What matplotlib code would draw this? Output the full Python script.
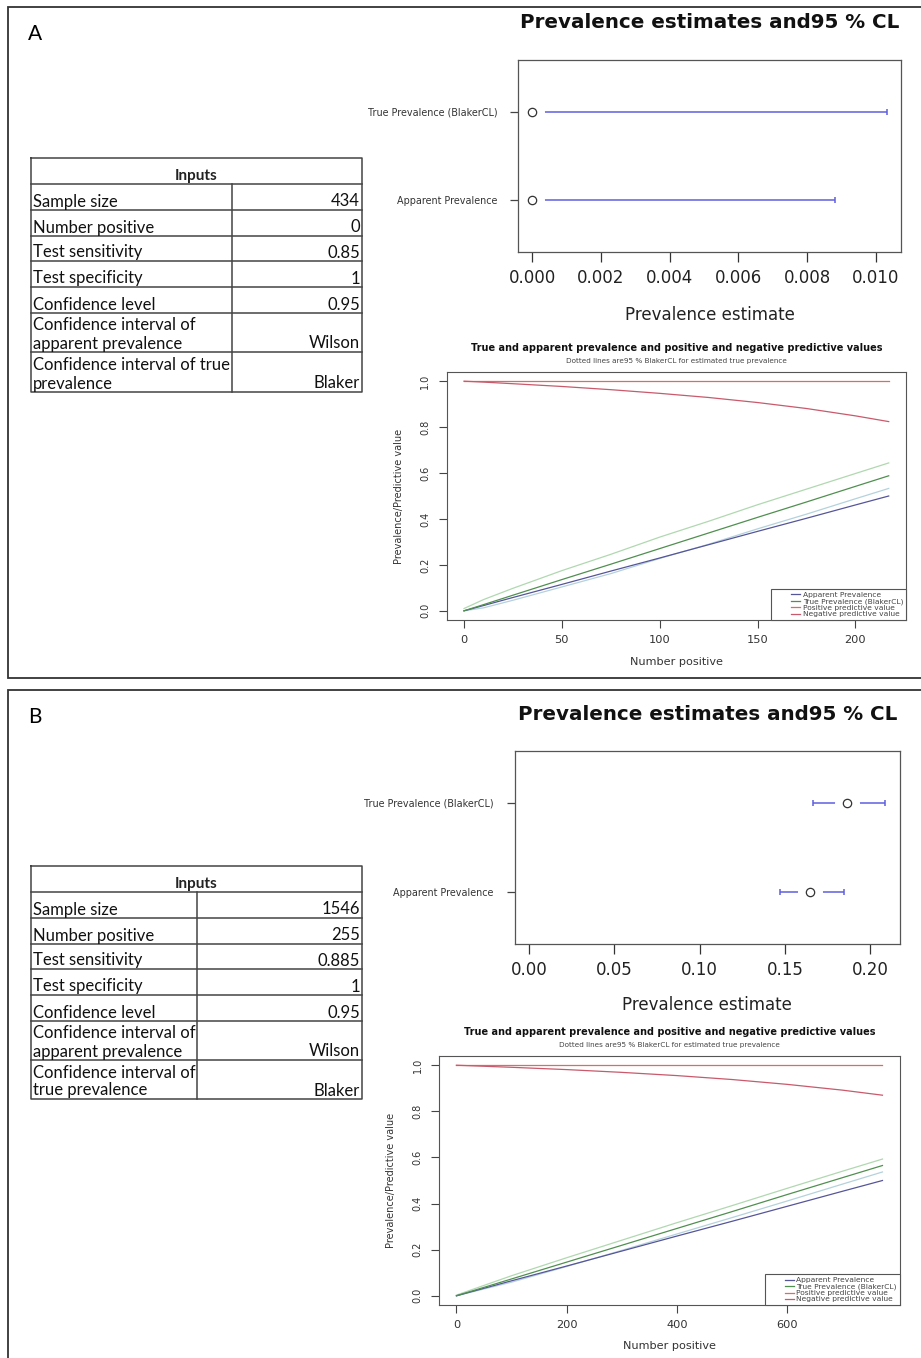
import matplotlib
matplotlib.use('Agg')
import matplotlib.pyplot as plt
from matplotlib.lines import Line2D
from matplotlib.legend_handler import HandlerLine2D

W, H = 921, 1358

# ---- panel A inputs ----
a_rows = ['Sample size', 'Number positive', 'Test sensitivity', 'Test specificity',
          'Confidence level', 'Confidence interval of\napparent prevalence',
          'Confidence interval of true\nprevalence']
a_vals = ['434', '0', '0.85', '1', '0.95', 'Wilson', 'Blaker']

# ---- panel B inputs ----
b_rows = ['Sample size', 'Number positive', 'Test sensitivity', 'Test specificity',
          'Confidence level', 'Confidence interval of\napparent prevalence',
          'Confidence interval of\ntrue prevalence']
b_vals = ['1546', '255', '0.885', '1', '0.95', 'Wilson', 'Blaker']

# ---- prevalence estimates (Apparent, True) ----
prev_labels = ['Apparent Prevalence', 'True Prevalence (BlakerCL)']
a_est = [0.0, 0.0]
a_lo = [0.0, 0.0]
a_hi = [0.00882, 0.01032]
a_xticks = [0.000, 0.002, 0.004, 0.006, 0.008, 0.010]
b_est = [0.1648, 0.1862]
b_lo = [0.1470, 0.1662]
b_hi = [0.1847, 0.2087]
b_xticks = [0.00, 0.05, 0.10, 0.15, 0.20]

# ---- prevalence / predictive value curves, panel A ----
a_npos = [0, 10, 25, 50, 75, 100, 125, 150, 175, 200, 217]
a_ap = [0.0, 0.023, 0.058, 0.115, 0.173, 0.230, 0.288, 0.346, 0.403, 0.461, 0.500]
a_tp = [0.0, 0.027, 0.068, 0.136, 0.203, 0.271, 0.339, 0.407, 0.474, 0.542, 0.588]
a_tp_lo = [0.0, 0.013, 0.046, 0.104, 0.162, 0.228, 0.290, 0.357, 0.421, 0.488, 0.533]
a_tp_hi = [0.010, 0.049, 0.098, 0.175, 0.246, 0.321, 0.390, 0.462, 0.530, 0.598, 0.644]
a_ppv = [1.0, 1.0, 1.0, 1.0, 1.0, 1.0, 1.0, 1.0, 1.0, 1.0, 1.0]
a_npv = [1.0, 0.996, 0.989, 0.977, 0.963, 0.947, 0.929, 0.907, 0.881, 0.849, 0.824]
a_pxticks = [0, 50, 100, 150, 200]

# ---- prevalence / predictive value curves, panel B ----
b_npos = [0, 100, 200, 300, 400, 500, 600, 700, 773]
b_ap = [0.0, 0.065, 0.129, 0.194, 0.259, 0.323, 0.388, 0.453, 0.500]
b_tp = [0.0, 0.073, 0.146, 0.219, 0.292, 0.365, 0.439, 0.512, 0.565]
b_tp_lo = [0.0, 0.059, 0.127, 0.197, 0.268, 0.339, 0.411, 0.484, 0.537]
b_tp_hi = [0.003, 0.087, 0.165, 0.241, 0.317, 0.391, 0.466, 0.540, 0.593]
b_ppv = [1.0, 1.0, 1.0, 1.0, 1.0, 1.0, 1.0, 1.0, 1.0]
b_npv = [1.0, 0.991, 0.981, 0.969, 0.955, 0.938, 0.917, 0.892, 0.870]
b_pxticks = [0, 200, 400, 600]

legend_labels = ['Apparent Prevalence', 'True Prevalence (BlakerCL)',
                 'Positive predictive value', 'Negative predictive value']

ci_col = '#5f5fe0'
c_ap, c_tp, c_tphi, c_tplo = '#55559a', '#4f8f4f', '#b0d8b0', '#b4d2dc'
c_ppv, c_npv = '#e06868', '#c85a6c'
frame_col = '#444444'
table_font = 'Lato'

fig = plt.figure(figsize=(W / 100, H / 100), dpi=100)


def rect(x0, y0, x1, y1):
    return [x0 / W, 1 - y1 / H, (x1 - x0) / W, (y1 - y0) / H]


def ftext(x, y, s, **kw):
    kw.setdefault('ha', 'center')
    kw.setdefault('va', 'center')
    fig.text(x / W, 1 - y / H, s, **kw)


# overlay in pixel coordinates for frames, letters and tables
bg = fig.add_axes([0, 0, 1, 1])
bg.set_xlim(0, W)
bg.set_ylim(H, 0)
bg.axis('off')

for top, bot, letter in [(7, 678, 'A'), (690, 1375, 'B')]:
    bg.plot([940, 8, 8, 940], [top, top, bot, bot], color='#333333', lw=1.3,
            solid_joinstyle='miter', clip_on=False)
    bg.text(28, top + 33, letter, fontsize=15, family=table_font, va='baseline')


def draw_table(top, col_x, edges, rows, vals):
    left, right = 30.5, 361.5
    bg.plot([left, right, right, left, left], [top, top, edges[-1], edges[-1], top],
            color=frame_col, lw=1.1)
    bg.plot([col_x, col_x], [edges[0], edges[-1]], color=frame_col, lw=1.1)
    for e in edges[:-1]:
        bg.plot([left, right], [e, e], color=frame_col, lw=1.1)
    bg.text((left + right) / 2, edges[0] - 4, 'Inputs', ha='center', va='baseline',
            fontsize=11, fontweight='bold', family=table_font, color='#222222')
    for i, (lab, val) in enumerate(zip(rows, vals)):
        base = edges[i + 1] - 3.5
        for j, line in enumerate(reversed(lab.split('\n'))):
            bg.text(left + 2.5, base - 18 * j, line, ha='left', va='baseline',
                    fontsize=12, family=table_font, color='#111111')
        bg.text(right - 1.5, base, val, ha='right', va='baseline',
                fontsize=12, family=table_font, color='#111111')


draw_table(158, 232, [184, 210, 236, 261, 287, 313, 352, 392], a_rows, a_vals)
draw_table(866, 197, [892, 918, 944, 969, 995, 1021, 1060, 1099], b_rows, b_vals)


def prev_plot(box, est, lo, hi, xticks, fmt, title_y, xlabel_y):
    ax = fig.add_axes(rect(*box))
    ypos = [1, 2]
    ax.hlines(ypos, lo, hi, color=ci_col, lw=1.1, zorder=2)
    ax.plot(lo, ypos, ls='none', marker='|', ms=5, mew=1.1, color=ci_col, zorder=2)
    ax.plot(hi, ypos, ls='none', marker='|', ms=5, mew=1.1, color=ci_col, zorder=2)
    ax.plot(est, ypos, ls='none', marker='o', ms=18, mfc='white', mec='none', zorder=3)
    ax.plot(est, ypos, ls='none', marker='o', ms=6, mfc='white', mec='#333333',
            mew=0.9, zorder=4)
    hmax = max(hi)
    ax.set_xlim(-0.04 * hmax, 1.04 * hmax)
    ax.set_ylim(0.42, 2.58)
    ax.set_xticks(xticks)
    ax.set_xticklabels([fmt.format(t) for t in xticks])
    ax.set_yticks(ypos)
    ax.set_yticklabels(prev_labels)
    ax.tick_params(axis='x', length=7, width=0.9, pad=5, labelsize=12,
                   colors='#333333', labelcolor='#222222')
    ax.tick_params(axis='y', length=6, width=0.9, pad=9, labelsize=6.9,
                   colors='#444444', labelcolor='#333333')
    for s in ax.spines.values():
        s.set_color('#555555')
        s.set_linewidth(0.9)
    cx = (box[0] + box[2]) / 2
    ftext(cx + 0.5, title_y, 'Prevalence estimates and95 % CL', fontsize=14.3,
          fontweight='bold', color='#111111')
    ftext(cx, xlabel_y, 'Prevalence estimate', fontsize=12, color='#222222')
    return ax


prev_plot((518, 60, 901, 252), a_est, a_lo, a_hi, a_xticks, '{:.3f}', 23, 315)
prev_plot((514.6, 751, 899.6, 944), b_est, b_lo, b_hi, b_xticks, '{:.2f}', 715, 1005)


def pv_plot(box, npos, ap, tp, tp_lo, tp_hi, ppv, npv, xticks, title_y, xlabel_y):
    ax = fig.add_axes(rect(*box))
    ax.plot(npos, tp_hi, color=c_tphi, lw=0.9)
    ax.plot(npos, tp_lo, color=c_tplo, lw=0.9)
    ax.plot(npos, ap, color=c_ap, lw=0.9)
    ax.plot(npos, tp, color=c_tp, lw=0.9)
    ax.plot(npos, ppv, color=c_ppv, lw=0.9)
    ax.plot(npos, npv, color=c_npv, lw=0.9)
    span = max(npos) - min(npos)
    ax.set_xlim(min(npos) - 0.04 * span, max(npos) + 0.04 * span)
    ax.set_ylim(-0.04, 1.04)
    ax.set_xticks(xticks)
    yt = [0.0, 0.2, 0.4, 0.6, 0.8, 1.0]
    ax.set_yticks(yt)
    ax.set_yticklabels(['{:.1f}'.format(v) for v in yt])
    ax.tick_params(axis='x', length=6, width=0.8, pad=5, labelsize=8.2,
                   colors='#444444', labelcolor='#333333')
    ax.tick_params(axis='y', length=6, width=0.8, pad=6, labelsize=7,
                   colors='#444444', labelcolor='#333333', labelrotation=90)
    for lab in ax.get_yticklabels():
        lab.set_va('center')
    for s in ax.spines.values():
        s.set_color('#555555')
        s.set_linewidth(0.8)
    handles = [Line2D([], [], color=c, lw=0.9) for c in (c_ap, c_tp, c_ppv, c_npv)]
    leg = ax.legend(handles, legend_labels, loc='lower right', fontsize=5.4,
                    borderaxespad=0, borderpad=0.35, labelspacing=0.0,
                    handlelength=3.5, handletextpad=0.3, fancybox=False,
                    framealpha=1, edgecolor='#555555',
                    handler_map={Line2D: HandlerLine2D(xpad=2.3)})
    leg.get_frame().set_linewidth(0.8)
    for t in leg.get_texts():
        t.set_color('#444444')
    cx = (box[0] + box[2]) / 2
    ftext(cx, title_y, 'True and apparent prevalence and positive and negative predictive values',
          fontsize=7, fontweight='bold', color='#111111')
    ftext(cx, title_y + 13, 'Dotted lines are95 % BlakerCL for estimated true prevalence',
          fontsize=5.2, color='#444444')
    ftext(cx, xlabel_y, 'Number positive', fontsize=8.1, color='#333333')
    ftext(box[0] - 48, (box[1] + box[3]) / 2, 'Prevalence/Predictive value', fontsize=7,
          rotation=90, color='#333333')
    return ax


pv_plot((447, 372, 905.7, 620), a_npos, a_ap, a_tp, a_tp_lo, a_tp_hi, a_ppv, a_npv,
        a_pxticks, 348, 662)
pv_plot((439.4, 1056, 899.5, 1305), b_npos, b_ap, b_tp, b_tp_lo, b_tp_hi, b_ppv, b_npv,
        b_pxticks, 1032, 1346)

fig.savefig('out.png', dpi=100)
